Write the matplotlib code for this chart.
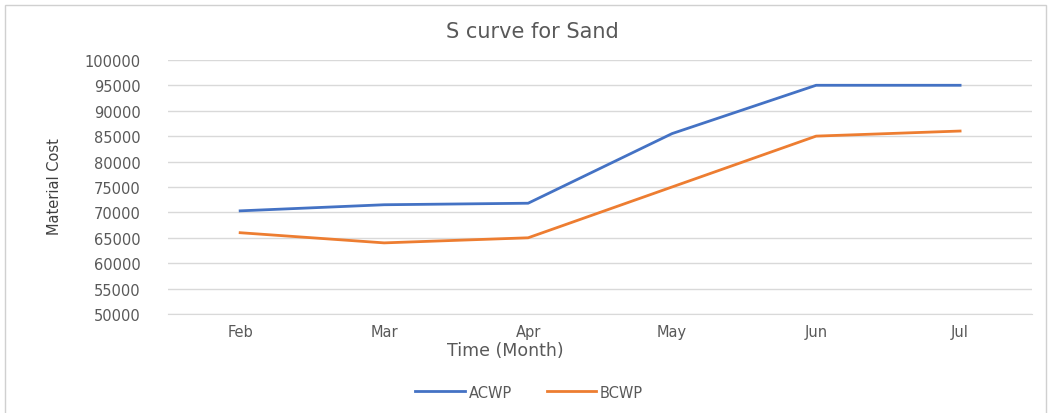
import matplotlib
matplotlib.use("Agg")
import matplotlib.pyplot as plt
from matplotlib.patches import Rectangle

# data
months = ["Feb", "Mar", "Apr", "May", "Jun", "Jul"]
acwp = [70300, 71500, 71800, 85500, 95000, 95000]
bcwp = [66000, 64000, 65000, 75000, 85000, 86000]
yticks = list(range(50000, 100001, 5000))

grey = "#595959"
plt.rcParams["font.family"] = ["DejaVu Sans"]

fig = plt.figure(figsize=(10.51, 4.14), dpi=100)
ax = fig.add_axes([0.16, 0.239, 0.822, 0.614])

# chart frame
fig.patches.append(Rectangle((0.005, -0.05), 0.99, 1.035, transform=fig.transFigure,
                             fill=False, edgecolor="#d0d0d0", linewidth=1.0))

x = list(range(len(months)))
ax.plot(x, acwp, color="#4472C4", linewidth=2.0, label="ACWP")
ax.plot(x, bcwp, color="#ED7D31", linewidth=2.0, label="BCWP")

ax.set_xlim(-0.5, len(months) - 0.5)
ax.set_ylim(50000, 100000)
ax.set_yticks(yticks)
ax.set_xticks(x)
ax.set_xticklabels(months)
ax.grid(axis="y", color="#d9d9d9", linewidth=1.0)
ax.set_axisbelow(True)
for s in ["top", "right", "left"]:
    ax.spines[s].set_visible(False)
ax.spines["bottom"].set_color("#d9d9d9")
ax.tick_params(axis="both", length=0, colors=grey, labelsize=10.5)
ax.tick_params(axis="y", pad=20)
ax.tick_params(axis="x", pad=7)

fig.text(0.507, 0.923, "S curve for Sand", color=grey, fontsize=15,
         ha="center", va="center")
fig.text(0.481, 0.152, "Time (Month)", color=grey, fontsize=12.5,
         ha="center", va="center")
fig.text(0.052, 0.55, "Material Cost", color="#404040", fontsize=10.5,
         rotation=90, ha="center", va="center")

ax.legend(loc="center", bbox_to_anchor=(0.418, -0.307), ncol=2, frameon=False,
          fontsize=10.5, labelcolor=grey, handlelength=3.4, columnspacing=2.4,
          handletextpad=0.25)

fig.savefig("out.png", dpi=100)
